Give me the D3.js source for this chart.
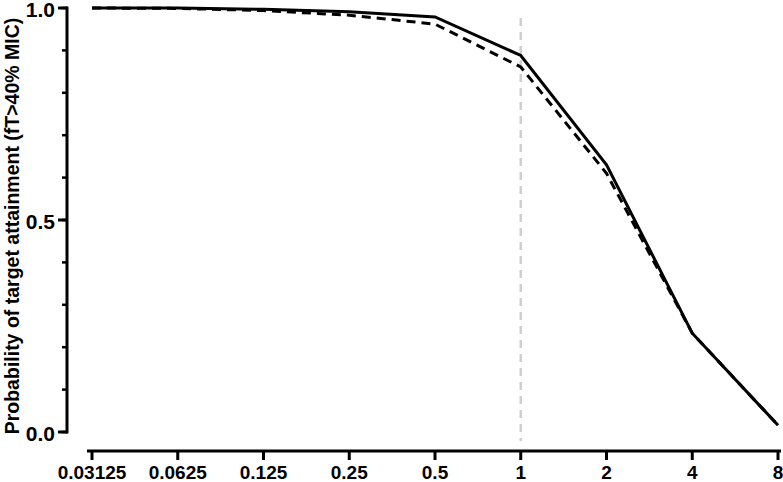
<!DOCTYPE html>
<html>
<head>
<meta charset="utf-8">
<script src="https://cdn.jsdelivr.net/npm/d3@7"></script>
<style>
  body { margin: 0; background: #fff; }
  text { font-family: "Liberation Sans", Arial, sans-serif; }
</style>
</head>
<body>
<div id="chart-container"></div>
<script>
// MIC values (mg/L) on a log2 axis
const micValues = [0.03125, 0.0625, 0.125, 0.25, 0.5, 1, 2, 4, 8];
const micLabels = ["0.03125", "0.0625", "0.125", "0.25", "0.5", "1", "2", "4", "8"];

// probability of target attainment, two regimens
const solidSeries = [1.0, 1.0, 0.997, 0.991, 0.979, 0.888, 0.630, 0.233, 0.016];
const dashedSeries = [1.0, 0.999, 0.994, 0.983, 0.962, 0.861, 0.610, 0.233, 0.016];

const breakpoint = 1;
const yTicks = [0, 0.5, 1];

const width = 783;
const height = 482;

const svg = d3.select("#chart-container")
    .append("svg")
    .attr("width", width)
    .attr("height", height);

const xScale = d3.scaleLog()
    .base(2)
    .domain([0.03125, 8])
    .range([92, 778]);

const yScale = d3.scaleLinear()
    .domain([0, 1])
    .range([432, 8]);

// vertical reference line at the breakpoint
svg.append("line")
    .attr("x1", xScale(breakpoint))
    .attr("x2", xScale(breakpoint))
    .attr("y1", 18)
    .attr("y2", 441)
    .attr("stroke", "#cfcfcf")
    .attr("stroke-width", 2.5)
    .attr("stroke-dasharray", "8,6");

// y axis with minor ticks every 0.1
const yAxisG = svg.append("g")
    .attr("transform", "translate(67,0)");

yAxisG.append("line")
    .attr("x1", 0).attr("x2", 0)
    .attr("y1", yScale(1) - 1.5).attr("y2", yScale(0) + 1.5)
    .attr("stroke", "#000").attr("stroke-width", 3);

yAxisG.selectAll(".minor")
    .data(d3.range(0, 11).map(d => d / 10))
    .enter()
    .append("line")
    .attr("x1", -5).attr("x2", 0)
    .attr("y1", d => yScale(d)).attr("y2", d => yScale(d))
    .attr("stroke", "#000").attr("stroke-width", 2.5);

yAxisG.selectAll(".major")
    .data(yTicks)
    .enter()
    .append("line")
    .attr("x1", -9).attr("x2", 0)
    .attr("y1", d => yScale(d)).attr("y2", d => yScale(d))
    .attr("stroke", "#000").attr("stroke-width", 3);

yAxisG.selectAll(".ylab")
    .data(yTicks)
    .enter()
    .append("text")
    .attr("x", -12)
    .attr("y", d => yScale(d))
    .attr("dy", "0.42em")
    .attr("text-anchor", "end")
    .attr("font-size", 21)
    .attr("font-weight", "bold")
    .text(d => d3.format(".1f")(d));

// x axis
const xAxisG = svg.append("g")
    .attr("transform", "translate(0,451)");

xAxisG.append("line")
    .attr("x1", 87).attr("x2", 781)
    .attr("y1", 0).attr("y2", 0)
    .attr("stroke", "#000").attr("stroke-width", 3);

xAxisG.selectAll(".xtick")
    .data(micValues)
    .enter()
    .append("line")
    .attr("x1", d => xScale(d)).attr("x2", d => xScale(d))
    .attr("y1", 0).attr("y2", 9)
    .attr("stroke", "#000").attr("stroke-width", 3);

xAxisG.selectAll(".xlab")
    .data(micValues)
    .enter()
    .append("text")
    .attr("x", d => xScale(d))
    .attr("y", 28)
    .attr("text-anchor", "middle")
    .attr("font-size", 19)
    .attr("font-weight", "bold")
    .text((d, i) => micLabels[i]);

// y axis title
svg.append("text")
    .attr("transform", "translate(19,226) rotate(-90)")
    .attr("text-anchor", "middle")
    .attr("font-size", 19.5)
    .attr("font-weight", 600)
    .text("Probability of target attainment (fT>40% MIC)");

const line = d3.line()
    .x((d, i) => xScale(micValues[i]))
    .y(d => yScale(d));

svg.append("path")
    .datum(dashedSeries)
    .attr("d", line)
    .attr("fill", "none")
    .attr("stroke", "#000")
    .attr("stroke-width", 3)
    .attr("stroke-dasharray", "9,6");

svg.append("path")
    .datum(solidSeries)
    .attr("d", line)
    .attr("fill", "none")
    .attr("stroke", "#000")
    .attr("stroke-width", 3);
</script>
</body>
</html>
